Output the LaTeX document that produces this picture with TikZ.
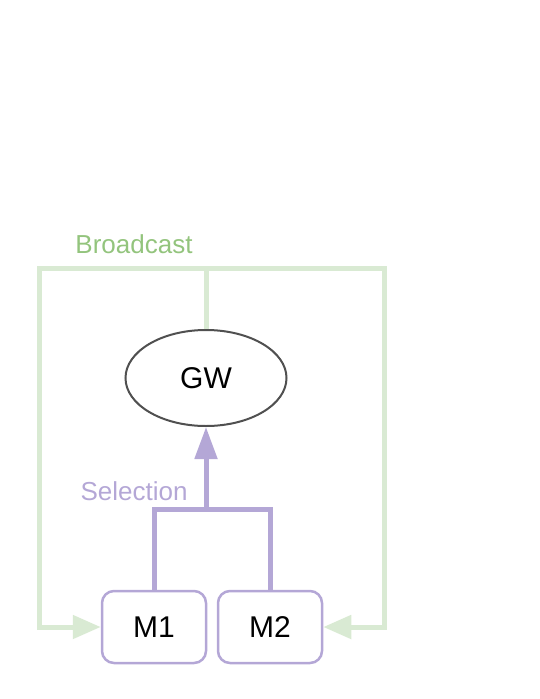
\documentclass[tikz,border=0pt]{standalone}
\usepackage{fontspec}
\setmainfont{Liberation Sans}
\usetikzlibrary{arrows.meta,shapes.geometric}
\definecolor{bcgreen}{RGB}{217,234,211}
\definecolor{bctext}{RGB}{147,196,125}
\definecolor{selpurple}{RGB}{180,167,214}
\definecolor{gwgray}{RGB}{80,80,80}

\begin{document}
\begin{tikzpicture}[x=1pt,y=1pt,yscale=-1,
    modbox/.style={draw=selpurple,line width=2.5pt,rounded corners=12pt,minimum width=104pt,minimum height=72pt,inner sep=0pt,font=\fontsize{30}{34}\selectfont},
    bcline/.style={draw=bcgreen,line width=5pt},
    selline/.style={draw=selpurple,line width=5pt},
    lbl/.style={inner sep=0pt,font=\fontsize{26}{30}\selectfont}]
  \useasboundingbox (0,0) rectangle (540,699);
  % gateway and modules
  \node [ellipse,draw=gwgray,line width=2pt,minimum width=161pt,minimum height=96pt,inner sep=0pt,font=\fontsize{30}{34}\selectfont] (gw) at (206,378) {GW};
  \node [modbox] (m1) at (154,627) {M1};
  \node [modbox] (m2) at (270,627) {M2};
  % labels
  \node [lbl,text=bctext] (bclabel) at (134,244) {Broadcast};
  \node [lbl,text=selpurple] (sellabel) at (134,491) {Selection};
  % broadcast
  \coordinate (bcl) at (39,268);
  \coordinate (bcr) at (384,268);
  \draw [bcline] (gw.north) -- (gw.north |- bcl);
  \draw [bcline,-{Triangle[length=28pt,width=23pt]}] (gw.north |- bcl) -- (bcl) |- (m1.west);
  \draw [bcline,-{Triangle[length=28pt,width=23pt]}] (gw.north |- bcr) -- (bcr) |- (m2.east);
  % selection
  \coordinate (selj) at (206,509);
  \draw [selline] (m1.north) |- (selj) -| (m2.north);
  \draw [selline,-{Triangle[length=32pt,width=22pt]}] (selj) -- (gw.south);
\end{tikzpicture}
\end{document}
